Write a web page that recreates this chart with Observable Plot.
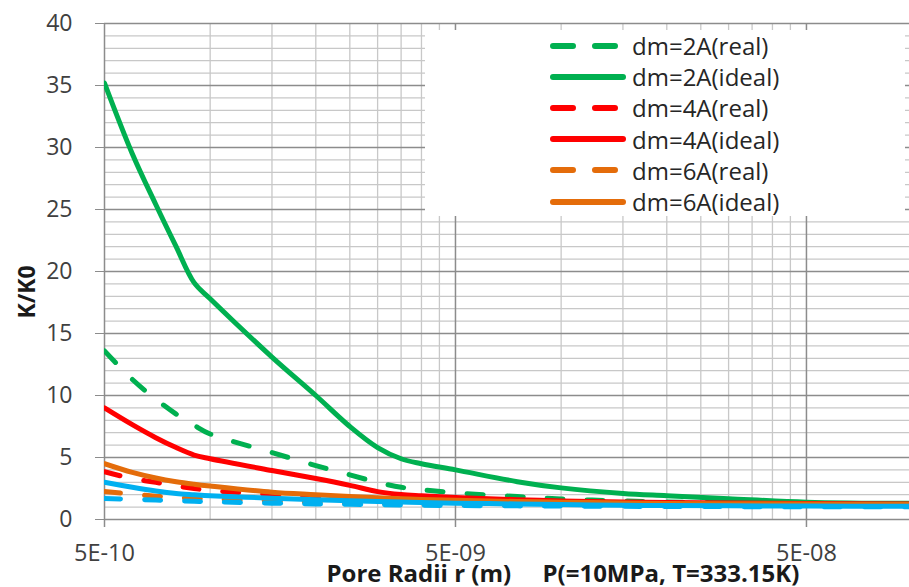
<!DOCTYPE html>
<html><head><meta charset="utf-8">
<script src="https://cdn.jsdelivr.net/npm/d3@7"></script>
<script src="https://cdn.jsdelivr.net/npm/@observablehq/plot@0.6"></script>
<style>
body{margin:0;background:#fff;overflow:hidden}
#wrap{position:relative;width:909px;height:587px;font-family:"Open Sans",sans-serif}
#legend{position:absolute;left:425px;top:30px;width:480px;height:186px;background:#fff}
.item{position:absolute;left:0;height:31px;display:flex;align-items:center;font-size:24px;color:#262626;white-space:nowrap}
.item svg{margin-left:125px;margin-right:4px}
#ytitle{position:absolute;left:26px;top:292px;transform:translate(-50%,-50%) rotate(-90deg);font-size:23px;font-weight:bold;color:#1a1a1a;white-space:nowrap}
</style></head><body><div id="wrap"><div id="legend"></div><div id="ytitle"></div></div>
<script>
// Pore radius r (m)
const radii = [5e-10,6e-10,7e-10,8e-10,9e-10,1e-9,1.5e-9,2e-9,2.5e-9,3e-9,3.5e-9,4e-9,5e-9,7.5e-9,1e-8,1.5e-8,2e-8,3e-8,5e-8,1e-7];
// K/K0 values
const dm2Real  = [13.6,11.3,9.7,8.5,7.6,6.9,5.4,4.35,3.6,3.0,2.6,2.4,2.15,1.85,1.65,1.5,1.42,1.35,1.3,1.22];
const dm2Ideal = [35.2,29.5,25.4,22.0,19.1,17.8,13.1,10.0,7.5,5.8,4.9,4.5,4.0,3.05,2.55,2.1,1.92,1.68,1.4,1.3];
const dm4Real  = [3.85,3.3,3.0,2.7,2.5,2.35,2.0,1.8,1.7,1.62,1.55,1.5,1.45,1.38,1.33,1.28,1.25,1.22,1.2,1.15];
const dm4Ideal = [9.0,7.65,6.6,5.8,5.2,4.9,3.95,3.3,2.75,2.25,2.02,1.92,1.78,1.6,1.5,1.42,1.38,1.33,1.3,1.25];
const dm6Real  = [2.25,2.05,1.88,1.78,1.7,1.65,1.5,1.4,1.35,1.3,1.27,1.24,1.2,1.17,1.15,1.13,1.12,1.11,1.1,1.08];
const dm6Ideal = [4.5,3.8,3.35,3.05,2.85,2.7,2.2,2.0,1.85,1.75,1.68,1.62,1.55,1.45,1.4,1.33,1.3,1.27,1.25,1.22];
const dm8Real  = [1.7,1.63,1.57,1.52,1.47,1.43,1.32,1.26,1.22,1.19,1.17,1.15,1.13,1.1,1.08,1.06,1.05,1.04,1.03,1.02];
const dm8Ideal = [3.0,2.6,2.3,2.1,2.0,1.92,1.72,1.6,1.52,1.46,1.41,1.37,1.32,1.25,1.2,1.15,1.12,1.1,1.08,1.06];

const seriesNames  = ["dm=2A(real)","dm=2A(ideal)","dm=4A(real)","dm=4A(ideal)","dm=6A(real)","dm=6A(ideal)","dm=8A(real)","dm=8A(ideal)"];
const seriesValues = [dm2Real,dm2Ideal,dm4Real,dm4Ideal,dm6Real,dm6Ideal,dm8Real,dm8Ideal];
const seriesColors = ["#00B050","#00B050","#FF0000","#FF0000","#E46C0A","#E46C0A","#00B0F0","#00B0F0"];
const seriesDashed = [true,false,true,false,true,false,true,false];
const legendCount = 6; // only six entries visible in the legend

const xTicks = [5e-10,5e-9,5e-8];
const xTickLabels = ["5E-10","5E-09","5E-08"];
const yTicks = [0,5,10,15,20,25,30,35,40];
const xTitle1 = "Pore Radii r (m)";
const xTitle2 = "P(=10MPa, T=333.15K)";
const yTitle = "K/K0";

const xMax = 9.83e-8;
const xGrid = [];
for (const d of xTicks) for (let k = 1; k <= 9; k++) { const v = d * k; if (v <= xMax * 1.0001) xGrid.push({v, major: k === 1}); }
const yGrid = d3.range(0, 41).map(v => ({v, major: v % 5 === 0}));

const rows = seriesNames.map((name, i) => radii.map((r, j) => ({r, k: seriesValues[i][j], name})));

const majorC = "#8c8c8c", minorC = "#c8c8c8", labelC = "#404040";
const marks = [
  Plot.ruleY(yGrid.filter(d => !d.major), {y: "v", stroke: minorC, strokeWidth: 1.3}),
  Plot.ruleX(xGrid.filter(d => !d.major), {x: "v", stroke: minorC, strokeWidth: 1.3}),
  Plot.ruleY(yGrid.filter(d => d.major), {y: "v", stroke: majorC, strokeWidth: 1.5}),
  Plot.ruleX(xGrid.filter(d => d.major), {x: "v", stroke: majorC, strokeWidth: 1.5}),
  Plot.axisY({ticks: yTicks, tickSize: 9, tickPadding: 23, fontSize: 23, stroke: majorC, fill: labelC, label: null}),
  // x ticks (below the axis) and labels
  Plot.ruleX(xTicks, {x: d => d, y1: 0, y2: 0, insetBottom: -8, stroke: majorC, strokeWidth: 1.5}),
  Plot.text(xTicks, {x: d => d, frameAnchor: "bottom", lineAnchor: "top", dy: 25, text: (d, i) => xTickLabels[i], fontSize: 23.5, fill: labelC}),
];
rows.forEach((data, i) => {
  marks.push(Plot.line(data, {x: "r", y: "k", stroke: seriesColors[i], strokeWidth: 5,
    strokeDasharray: seriesDashed[i] ? "16,24" : null, strokeLinecap: "round", strokeLinejoin: "round",
    curve: "catmull-rom", clip: true}));
});
marks.push(
  Plot.text([xTitle1], {frameAnchor: "bottom-left", dx: 222, dy: 62, text: d => d, textAnchor: "start", lineAnchor: "bottom", fontSize: 24, fontWeight: "bold", fill: "#1a1a1a"}),
  Plot.text([xTitle2], {frameAnchor: "bottom-left", dx: 438, dy: 62, text: d => d, textAnchor: "start", lineAnchor: "bottom", fontSize: 24, fontWeight: "bold", fill: "#1a1a1a"})
);

const chart = Plot.plot({
  width: 909, height: 587,
  marginLeft: 104, marginRight: 0, marginTop: 23, marginBottom: 68,
  style: {fontFamily: '"Open Sans", sans-serif', background: "#fff", overflow: "visible"},
  x: {type: "log", domain: [5e-10, xMax], axis: null},
  y: {domain: [0, 40]},
  marks
});
const wrap = document.getElementById("wrap");
wrap.insertBefore(chart, wrap.firstChild);
document.getElementById("ytitle").textContent = yTitle;

const legend = document.getElementById("legend");
for (let i = 0; i < legendCount; i++) {
  const it = document.createElement("div");
  it.className = "item";
  it.style.top = (i * 31.2) + "px";
  const dash = seriesDashed[i] ? 'stroke-dasharray="20,22"' : "";
  it.innerHTML = `<svg width="78" height="12"><line x1="3" y1="6" x2="73" y2="6" stroke="${seriesColors[i]}" stroke-width="6" stroke-linecap="round" ${dash}/></svg><span>${seriesNames[i]}</span>`;
  legend.appendChild(it);
}
</script></body></html>
